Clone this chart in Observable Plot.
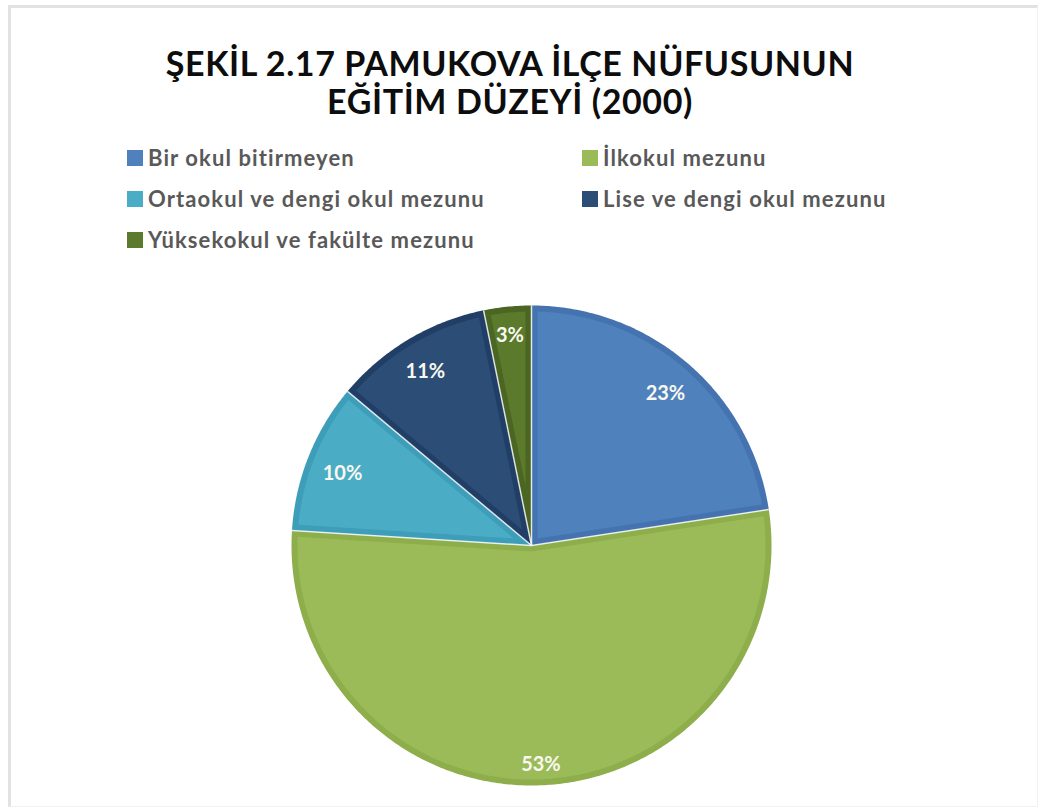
<!DOCTYPE html>
<html>
<head>
<meta charset="utf-8">
<script src="https://cdn.jsdelivr.net/npm/d3@7"></script>
<script src="https://cdn.jsdelivr.net/npm/@observablehq/plot@0.6"></script>
<style>
  html, body { margin: 0; padding: 0; background: #fff; }
  #page { position: relative; width: 1043px; height: 811px; overflow: hidden; font-family: Lato, "Open Sans", sans-serif; }
  #frame { position: absolute; left: 8px; top: 5px; width: 1030px; height: 802px; border-top: 3px solid #e2e2e2; border-left: 3px solid #e2e2e2; border-right: 1px solid #f2f2f2; border-bottom: 1px solid #f2f2f2; box-sizing: border-box; }
  #title { position: absolute; left: 0; width: 1020px; top: 44px; text-align: center; font-weight: 700; font-size: 34px; letter-spacing: 0.6px; line-height: 38px; color: #0d0d0d; }
  #legend { position: absolute; left: 127px; top: 137px; display: grid; grid-template-columns: 455px 455px; grid-auto-rows: 41px; }
  .item { display: flex; align-items: center; font-weight: 700; font-size: 22px; letter-spacing: 1.1px; color: #595959; white-space: nowrap; }
  .sw { width: 16px; height: 16px; margin-right: 5px; flex: none; }
  #chart { position: absolute; left: 0; top: 295px; }
</style>
</head>
<body>
<div id="page">
  <div id="frame"></div>
  <div id="title">ŞEKİL 2.17 PAMUKOVA İLÇE NÜFUSUNUN<br>EĞİTİM DÜZEYİ (2000)</div>
  <div id="legend"></div>
  <div id="chart"></div>
</div>
<script>
const categories = ["Bir okul bitirmeyen", "İlkokul mezunu", "Ortaokul ve dengi okul mezunu", "Lise ve dengi okul mezunu", "Yüksekokul ve fakülte mezunu"];
const values = [22.6, 53.4, 10.1, 10.7, 3.2];
const colors = ["#4F81BD", "#9BBB59", "#4BACC6", "#2C4D75", "#5B7A2B"];
const edgeColors = ["#4573B0", "#8DAE4B", "#3E9DB8", "#213F66", "#4B6522"];

// Legend (HTML, from the arrays)
const legend = document.getElementById("legend");
categories.forEach((c, i) => {
  const it = document.createElement("div");
  it.className = "item";
  const sw = document.createElement("span");
  sw.className = "sw";
  sw.style.background = colors[i];
  it.appendChild(sw);
  it.appendChild(document.createTextNode(c));
  legend.appendChild(it);
});

const R = 240;      // pie radius in scale units (1 unit = 1px)
const band = 6;     // darker inner edge width
const data = categories.map((c, i) => ({cat: c, value: values[i], color: colors[i], edge: edgeColors[i]}));
const arcs = d3.pie().sort(null).value(d => d.value)(data);

function arcPoints(a0, a1, r) {
  const n = Math.max(2, Math.ceil((a1 - a0) / 0.01));
  return d3.range(n + 1).map(k => {
    const a = a0 + (a1 - a0) * k / n;
    return [r * Math.sin(a), r * Math.cos(a)];
  });
}

const outer = [], inner = [];
arcs.forEach((s, i) => {
  const d = s.data;
  outer.push({key: i, x: 0, y: 0, fill: d.edge});
  arcPoints(s.startAngle, s.endAngle, R).forEach(([x, y]) => outer.push({key: i, x, y, fill: d.edge}));
  const alpha = s.endAngle - s.startAngle;
  const mid = (s.startAngle + s.endAngle) / 2;
  const dist = band / Math.sin(alpha / 2);
  inner.push({key: i, x: dist * Math.sin(mid), y: dist * Math.cos(mid), fill: d.color});
  const Ri = R - band;
  const delta = Math.asin(band / Ri);
  arcPoints(s.startAngle + delta, s.endAngle - delta, Ri).forEach(([x, y]) => inner.push({key: i, x, y, fill: d.color}));
});

// "inside end" style label placement: keep the text box inside the rim
const labels = arcs.map(s => {
  const mid = (s.startAngle + s.endAngle) / 2;
  const text = Math.round(s.data.value) + "%";
  const hw = text.length * 6.5, hh = 9;
  const dist = R - 15 - (Math.abs(Math.sin(mid)) * hw + Math.abs(Math.cos(mid)) * hh);
  return {x: dist * Math.sin(mid), y: dist * Math.cos(mid), text};
});

const chart = Plot.plot({
  width: 1043,
  height: 500,
  marginTop: 0, marginBottom: 0, marginLeft: 0, marginRight: 0,
  x: {domain: [-531, 512], axis: null},
  y: {domain: [-250, 250], axis: null},
  color: {type: "identity"},
  style: {background: "transparent", overflow: "visible"},
  marks: [
    Plot.line(outer, {x: "x", y: "y", z: "key", fill: "fill", stroke: "none", curve: "linear-closed"}),
    Plot.line(inner, {x: "x", y: "y", z: "key", fill: "fill", stroke: "none", curve: "linear-closed"}),
    Plot.link(arcs, {x1: 0, y1: 0, x2: s => R * Math.sin(s.startAngle), y2: s => R * Math.cos(s.startAngle), stroke: "#ffffff", strokeOpacity: 0.8, strokeWidth: 1.5}),
    Plot.text(labels, {x: "x", y: "y", dy: 4, text: "text", fill: "#f8f8f0", fontSize: 20, fontWeight: "bold", fontFamily: "Lato, sans-serif"})
  ]
});
document.getElementById("chart").appendChild(chart);
</script>
</body>
</html>
